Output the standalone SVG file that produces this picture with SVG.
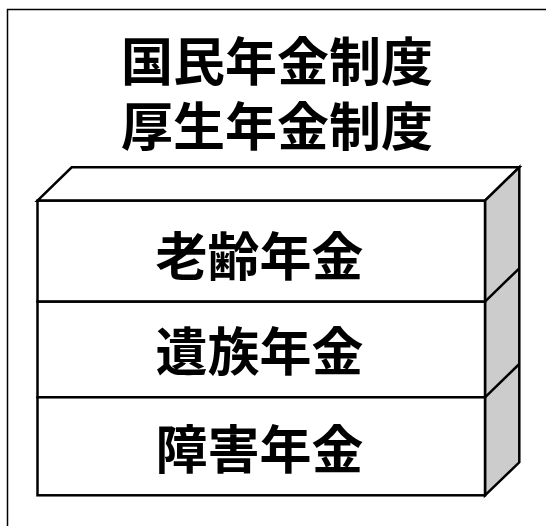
<svg xmlns="http://www.w3.org/2000/svg" width="546" height="526" viewBox="0 0 546 526">
<style>
.t{font-family:"Noto Sans CJK JP","Noto Sans CJK SC",sans-serif;font-weight:bold;font-size:52px;fill:#000;text-anchor:middle}
.e{stroke:#000;stroke-width:2.5;stroke-linejoin:miter;fill:#fff}
.s{stroke:#000;stroke-width:2.5;fill:#cccccc;stroke-linejoin:miter}
</style>
<rect x="0" y="0" width="546" height="526" fill="#fff"/>
<rect x="7.5" y="9.5" width="580" height="580" fill="none" stroke="#000" stroke-width="1.5"/>
<g id="title">
<text class="t" x="277" y="81">国民年金制度</text>
<text class="t" x="277" y="146">厚生年金制度</text>
</g>
<g id="box-top">
<polygon class="e" points="37.5,200.7 71.7,167.3 519.3,167.3 485,200.7"/>
</g>
<g id="box-side">
<polygon class="s" points="485,200.7 519.3,167.3 519.3,462.3 485,495.3"/>
<line x1="485" y1="301.7" x2="519.3" y2="268.3" stroke="#000" stroke-width="2.5"/>
<line x1="485" y1="397.3" x2="519.3" y2="364" stroke="#000" stroke-width="2.5"/>
</g>
<g id="rourei">
<rect class="e" x="37.5" y="200.7" width="447.5" height="101"/>
<text class="t" x="259.5" y="276">老齢年金</text>
</g>
<g id="izoku">
<rect class="e" x="37.5" y="301.7" width="447.5" height="95.6"/>
<text class="t" x="259.5" y="371">遺族年金</text>
</g>
<g id="shougai">
<rect class="e" x="37.5" y="397.3" width="447.5" height="98"/>
<text class="t" x="259.5" y="469">障害年金</text>
</g>
</svg>
